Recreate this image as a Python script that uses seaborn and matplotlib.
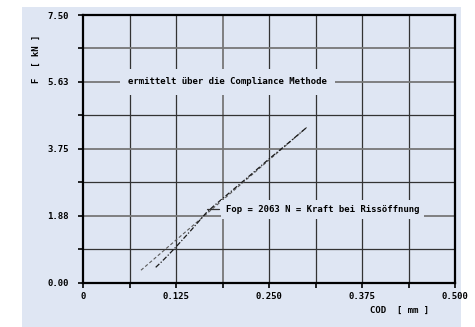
import matplotlib
matplotlib.use("Agg")
import matplotlib.pyplot as plt
import seaborn as sns
import pandas as pd
from matplotlib.patches import Rectangle

# Kraft-COD-Kurve (Messung) und Compliance-Gerade
cod_measured = [0.0974, 0.105, 0.115, 0.125, 0.135, 0.145, 0.155, 0.165,
                0.175, 0.200, 0.225, 0.250, 0.275, 0.3005]
f_measured = [0.43, 0.58, 0.79, 1.01, 1.24, 1.47, 1.71, 1.95,
              2.14, 2.58, 3.02, 3.47, 3.90, 4.35]
cod_compliance = [0.0776, 0.125, 0.200, 0.3005]
f_compliance = [0.35, 1.20, 2.54, 4.35]

f_op = 2.063  # kN, Kraft bei Rissöffnung

x_major = [0, 0.125, 0.25, 0.375, 0.5]
x_labels = ["0", "0.125", "0.250", "0.375", "0.500"]
y_major = [0, 1.875, 3.75, 5.625, 7.5]
y_labels = ["0.00", "1.88", "3.75", "5.63", "7.50"]

BG = "#dfe6f3"
FS = 6.5

sns.set_theme(style="white")
plt.rcParams["font.family"] = ["DejaVu Sans Mono"]
plt.rcParams["font.weight"] = "bold"
plt.rcParams["text.color"] = "black"
plt.rcParams["axes.labelcolor"] = "black"
plt.rcParams["xtick.color"] = "black"
plt.rcParams["ytick.color"] = "black"

fig = plt.figure(figsize=(4.75, 3.27), dpi=100, facecolor="white")
fig.patches.append(Rectangle((22 / 475, 0), 439 / 475, 320 / 327,
                             transform=fig.transFigure, facecolor=BG,
                             edgecolor="none", zorder=-10))
ax = fig.add_axes([83.3 / 475, 1 - 282.7 / 327, 371.7 / 475, 267.7 / 327])
ax.set_facecolor(BG)
ax.set_zorder(1)

df_m = pd.DataFrame({"COD": cod_measured, "F": f_measured})
df_c = pd.DataFrame({"COD": cod_compliance, "F": f_compliance})

sns.lineplot(data=df_c, x="COD", y="F", ax=ax, color="#5a5a5a", lw=0.8,
             sort=False, zorder=3)
ax.lines[-1].set_dashes([3, 2])
sns.lineplot(data=df_m, x="COD", y="F", ax=ax, color="#1a1a1a", lw=0.9,
             sort=False, zorder=4)
ax.lines[-1].set_dashes([4, 1.5, 1, 1.5])

ax.set_xlim(0, 0.5)
ax.set_ylim(0, 7.5)
ax.set_xticks(x_major)
ax.set_xticklabels(x_labels)
ax.set_yticks(y_major)
ax.set_yticklabels(y_labels)
ax.set_xticks([0.0625, 0.1875, 0.3125, 0.4375], minor=True)
ax.set_yticks([0.9375, 2.8125, 4.6875, 6.5625], minor=True)

ax.tick_params(which="both", direction="out", length=3.5, width=1.2,
               color="black", labelsize=FS, left=True, bottom=True)
ax.tick_params(axis="y", which="major", pad=7)
ax.tick_params(axis="x", which="major", pad=3)

# Raster
for x in [0.0625, 0.125, 0.25, 0.3125, 0.375, 0.4375]:
    ax.axvline(x, color="#333333", lw=0.9, zorder=1)
ax.axvline(0.1875, color="#777777", lw=1.3, zorder=1)
for y in [0.9375, 2.8125, 4.6875]:
    ax.axhline(y, color="#333333", lw=0.9, zorder=1)
for y in [1.875, 3.75, 5.625, 6.5625]:
    ax.axhline(y, color="#777777", lw=1.3, zorder=1)

for side in ["left", "right", "top", "bottom"]:
    ax.spines[side].set_visible(True)
    ax.spines[side].set_color("black")
    ax.spines[side].set_linewidth(1.6)

ax.set_xlabel("COD  [ mm ]", fontsize=FS, fontweight="bold", loc="right")
ax.xaxis.label.set_va("center")
ax.xaxis.set_label_coords(0.93, -0.105)
ax.set_ylabel("F  [ kN ]", fontsize=FS, fontweight="bold")
ax.yaxis.label.set_va("center")
ax.yaxis.label.set_ha("center")
ax.yaxis.set_label_coords(-0.127, 0.8375)

ax.text(0.0602, 5.625, "ermittelt über die Compliance Methode",
        fontsize=FS, fontweight="bold", ha="left", va="center", zorder=5,
        bbox=dict(boxstyle="square,pad=0.9", facecolor=BG, edgecolor="none"))

ax.plot([0.166, 0.183], [f_op, f_op], color="#333333", lw=0.9, zorder=5)
ax.text(0.1918, f_op, f"Fop = {f_op * 1000:.0f} N = Kraft bei Rissöffnung",
        fontsize=FS, fontweight="bold", ha="left", va="center", zorder=5,
        bbox=dict(boxstyle="square,pad=0.55", facecolor=BG, edgecolor="none"))

fig.savefig("out.png", dpi=100, facecolor="white")
